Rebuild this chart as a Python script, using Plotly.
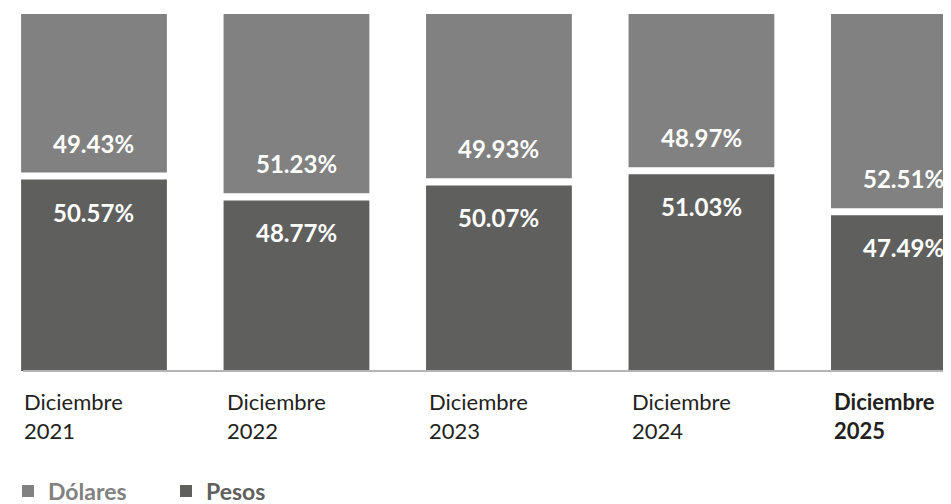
import plotly.graph_objects as go

YEARS = ["2021", "2022", "2023", "2024", "2025"]
PESOS = [50.57, 48.77, 50.07, 51.03, 47.49]
DOLARES = [49.43, 51.23, 49.93, 48.97, 52.51]

# la grafica original no va a escala: cada tramo pierde una parte fija
CUT_P = 34.0
CUT_D = 35.7
GAP = 0.61

C_DOL = "#808180"
C_PES = "#5f605e"
FONT = "Lato"

idx = list(range(len(YEARS)))
base_dol = [p + GAP for p in PESOS]
len_dol = [d - CUT_D for d in DOLARES]

fig = go.Figure()
fig.add_trace(go.Bar(
    x=idx, y=PESOS, base=0, width=0.72,
    marker=dict(color=C_PES, line=dict(width=0)),
    name=f"<span style='color:{C_PES}'><b>Pesos</b></span>",
    legendrank=2, hoverinfo="skip",
))
fig.add_trace(go.Bar(
    x=idx, y=len_dol, base=base_dol, width=0.72,
    marker=dict(color=C_DOL, line=dict(width=0)),
    name=f"<span style='color:{C_DOL}'><b>Dólares</b></span>",
    legendrank=1, hoverinfo="skip",
))

for i in idx:
    fig.add_annotation(
        x=i, y=base_dol[i], text=f"<b>{DOLARES[i]:.2f}%</b>",
        yanchor="bottom", yshift=13, showarrow=False,
        font=dict(family=FONT, size=24, color="white"),
    )
    fig.add_annotation(
        x=i, y=PESOS[i], text=f"<b>{PESOS[i]:.2f}%</b>",
        yanchor="top", yshift=-16, showarrow=False,
        font=dict(family=FONT, size=24, color="white"),
    )
    last = i == len(YEARS) - 1
    txt = f"Diciembre<br>{YEARS[i]}"
    fig.add_annotation(
        x=i - 0.355, y=0, yref="paper", text=f"<b>{txt}</b>" if last else txt,
        xanchor="left", yanchor="top", align="left", yshift=-15,
        showarrow=False,
        font=dict(family=FONT, size=22, color="#231f20"),
    )

fig.add_shape(
    type="line", xref="x", yref="paper",
    x0=-0.35, x1=4.3, y0=0, y1=0,
    line=dict(color="#b4b4b4", width=2), layer="above",
)

fig.update_layout(
    width=951, height=504,
    barmode="overlay",
    plot_bgcolor="white", paper_bgcolor="white",
    margin=dict(l=0, r=0, t=6, b=141, autoexpand=False),
    xaxis=dict(range=[-0.4247, 4.272], visible=False),
    yaxis=dict(range=[CUT_P, 100 + GAP - CUT_D], visible=False),
    showlegend=True,
    legend=dict(
        orientation="h", x=0, xanchor="left", y=-0.336, yanchor="middle",
        font=dict(family=FONT, size=23), traceorder="normal",
        entrywidth=113, itemclick=False,
    ),
)

fig.write_html("out.html")
